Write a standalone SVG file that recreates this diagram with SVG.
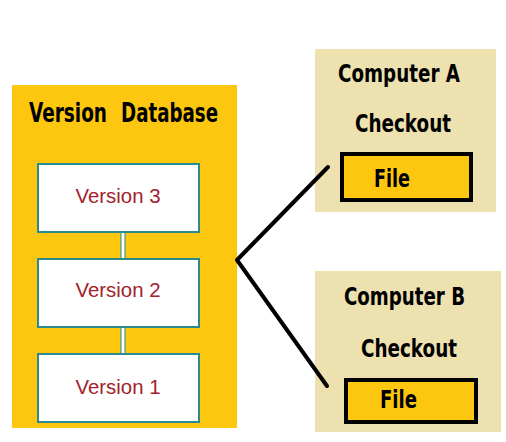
<svg xmlns="http://www.w3.org/2000/svg" width="506" height="442" viewBox="0 0 506 442">
<style>
.hd{font-family:"Liberation Sans Narrow","DejaVu Sans Condensed","Liberation Sans",sans-serif;font-weight:bold;fill:#000;font-stretch:condensed}
.ver{font-family:"Liberation Sans","Open Sans",sans-serif;font-size:21px;fill:#a3222b;text-anchor:middle}
.vbox{fill:#fff;stroke:#2b8a8e;stroke-width:2}
.comp{fill:#ede1b0}
.file{fill:#fdc70f;stroke:#000;stroke-width:4}
.conn{stroke:#000;stroke-width:4;fill:none;stroke-linecap:round;stroke-linejoin:round}
</style>
<rect width="506" height="442" fill="#fff"/>
<g id="db">
<rect x="12" y="85" width="225" height="343" fill="#fdc70f"/>
<text class="hd" y="122" font-size="26"><tspan x="29" textLength="78" lengthAdjust="spacingAndGlyphs">Version</tspan> <tspan x="121" textLength="97" lengthAdjust="spacingAndGlyphs">Database</tspan></text>
</g>
<g id="vlinks">
<rect x="121" y="231" width="4" height="29" fill="#fff" stroke="#2b8a8e" stroke-width="1"/>
<rect x="121" y="326" width="4" height="29" fill="#fff" stroke="#2b8a8e" stroke-width="1"/>
</g>
<g id="v3">
<rect class="vbox" x="38" y="164" width="161" height="68"/>
<text class="ver" x="118" y="203" textLength="85" lengthAdjust="spacingAndGlyphs">Version 3</text>
</g>
<g id="v2">
<rect class="vbox" x="38" y="259" width="161" height="68"/>
<text class="ver" x="118" y="297" textLength="85" lengthAdjust="spacingAndGlyphs">Version 2</text>
</g>
<g id="v1">
<rect class="vbox" x="38" y="354" width="161" height="68"/>
<text class="ver" x="118" y="394" textLength="85" lengthAdjust="spacingAndGlyphs">Version 1</text>
</g>
<g id="compA">
<rect class="comp" x="315" y="49" width="181" height="163"/>
<text class="hd" x="338" y="82" font-size="24" textLength="122" lengthAdjust="spacingAndGlyphs">Computer A</text>
<text class="hd" x="355" y="132" font-size="24" textLength="96" lengthAdjust="spacingAndGlyphs">Checkout</text>
<rect class="file" x="342" y="154" width="129" height="46"/>
<text class="hd" x="374" y="187" font-size="24" textLength="36" lengthAdjust="spacingAndGlyphs">File</text>
</g>
<g id="compB">
<rect class="comp" x="315" y="271" width="186" height="161"/>
<text class="hd" x="344" y="305" font-size="24" textLength="121" lengthAdjust="spacingAndGlyphs">Computer B</text>
<text class="hd" x="361" y="357" font-size="24" textLength="96" lengthAdjust="spacingAndGlyphs">Checkout</text>
<rect class="file" x="346" y="380" width="130" height="42"/>
<text class="hd" x="380" y="408" font-size="24" textLength="37" lengthAdjust="spacingAndGlyphs">File</text>
</g>
<g id="connectors">
<path class="conn" d="M328 167 L237 260 L327 386"/>
</g>
</svg>
